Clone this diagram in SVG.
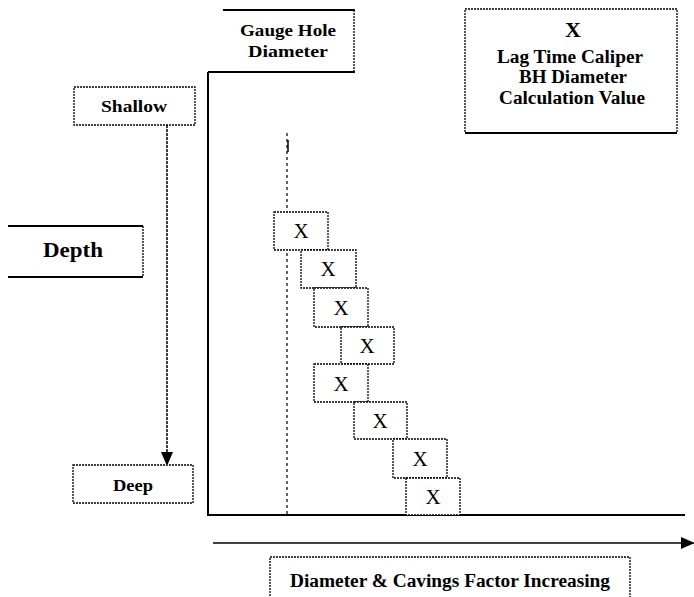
<svg xmlns="http://www.w3.org/2000/svg" width="694" height="597" viewBox="0 0 694 597">
<defs>
<marker id="ah" markerWidth="12" markerHeight="14" refX="13" refY="6" orient="auto" markerUnits="userSpaceOnUse">
<path d="M0,0 L14,6 L0,12 Z" fill="#000"/>
</marker>
<style>
.dot{fill:#fff;stroke:#000;stroke-width:1.3;stroke-dasharray:2 1}
.sol{stroke:#000;stroke-width:2;fill:none}
.t{font-family:"Liberation Serif","Times New Roman",serif;font-weight:bold;text-anchor:middle;fill:#000}
.x{font-family:"Liberation Serif","Times New Roman",serif;font-size:21px;text-anchor:middle;fill:#000}
</style>
</defs>
<rect width="694" height="597" fill="#fff"/>
<g id="connectors">
<line x1="167" y1="125" x2="167" y2="465" stroke="#000" stroke-width="1.5" stroke-dasharray="3 1" marker-end="url(#ah)"/>
<line x1="213" y1="543" x2="694" y2="543" stroke="#000" stroke-width="1.5" marker-end="url(#ah)"/>
</g>
<g id="axes">
<line class="sol" x1="208" y1="72" x2="208" y2="516"/>
<line class="sol" x1="207" y1="515" x2="685" y2="515"/>
<line x1="287" y1="133" x2="287" y2="515" stroke="#000" stroke-width="1.2" stroke-dasharray="3 3"/>
<line x1="288" y1="140" x2="288" y2="152" stroke="#000" stroke-width="1.5"/>
</g>
<g id="gauge">
<line class="sol" x1="223" y1="10" x2="355" y2="10"/>
<line class="sol" x1="208" y1="72" x2="355" y2="72"/>
<line x1="354" y1="10" x2="354" y2="72" stroke="#000" stroke-width="1.3" stroke-dasharray="2 1"/>
<text class="t" x="288" y="36" font-size="17" textLength="96" lengthAdjust="spacingAndGlyphs">Gauge Hole</text>
<text class="t" x="288" y="57" font-size="17" textLength="80" lengthAdjust="spacingAndGlyphs">Diameter</text>
</g>
<g id="legend">
<rect class="dot" x="465" y="9" width="212" height="124"/>
<line class="sol" x1="465" y1="133" x2="677" y2="133"/>
<text class="t" x="573" y="37" font-size="22">X</text>
<text class="t" x="570" y="63" font-size="18" textLength="146" lengthAdjust="spacingAndGlyphs">Lag Time Caliper</text>
<text class="t" x="573" y="83" font-size="18" textLength="108" lengthAdjust="spacingAndGlyphs">BH Diameter</text>
<text class="t" x="572" y="104" font-size="18" textLength="146" lengthAdjust="spacingAndGlyphs">Calculation Value</text>
</g>
<g id="shallow">
<rect class="dot" x="74" y="87" width="121" height="38"/>
<text class="t" x="134" y="112" font-size="16" textLength="66" lengthAdjust="spacingAndGlyphs">Shallow</text>
</g>
<g id="depth">
<line class="sol" x1="8" y1="226" x2="143" y2="226"/>
<line class="sol" x1="8" y1="277" x2="143" y2="277"/>
<line x1="143" y1="226" x2="143" y2="277" stroke="#000" stroke-width="1.3" stroke-dasharray="2 1"/>
<text class="t" x="73" y="257" font-size="22" textLength="60" lengthAdjust="spacingAndGlyphs">Depth</text>
</g>
<g id="deep">
<rect class="dot" x="73" y="465" width="120" height="38"/>
<text class="t" x="133" y="491" font-size="16" textLength="40" lengthAdjust="spacingAndGlyphs">Deep</text>
</g>
<g id="x1"><rect class="dot" x="274" y="212" width="54" height="38"/><text class="x" x="301" y="238">X</text></g>
<g id="x2"><rect class="dot" x="301" y="250" width="55" height="38"/><text class="x" x="328" y="276">X</text></g>
<g id="x3"><rect class="dot" x="314" y="288" width="54" height="39"/><text class="x" x="341" y="315">X</text></g>
<g id="x4"><rect class="dot" x="341" y="327" width="53" height="37"/><text class="x" x="367" y="353">X</text></g>
<g id="x5"><rect class="dot" x="314" y="364" width="54" height="38"/><text class="x" x="341" y="391">X</text></g>
<g id="x6"><rect class="dot" x="354" y="402" width="53" height="37"/><text class="x" x="380" y="428">X</text></g>
<g id="x7"><rect class="dot" x="393" y="439" width="54" height="39"/><text class="x" x="420" y="466">X</text></g>
<g id="x8"><rect class="dot" x="406" y="478" width="54" height="37"/><text class="x" x="433" y="504">X</text></g>
<g id="xaxis-label">
<rect class="dot" x="270" y="557" width="360" height="45"/>
<text class="t" x="450" y="587" font-size="18" textLength="320" lengthAdjust="spacingAndGlyphs">Diameter &amp; Cavings Factor Increasing</text>
</g>
</svg>
